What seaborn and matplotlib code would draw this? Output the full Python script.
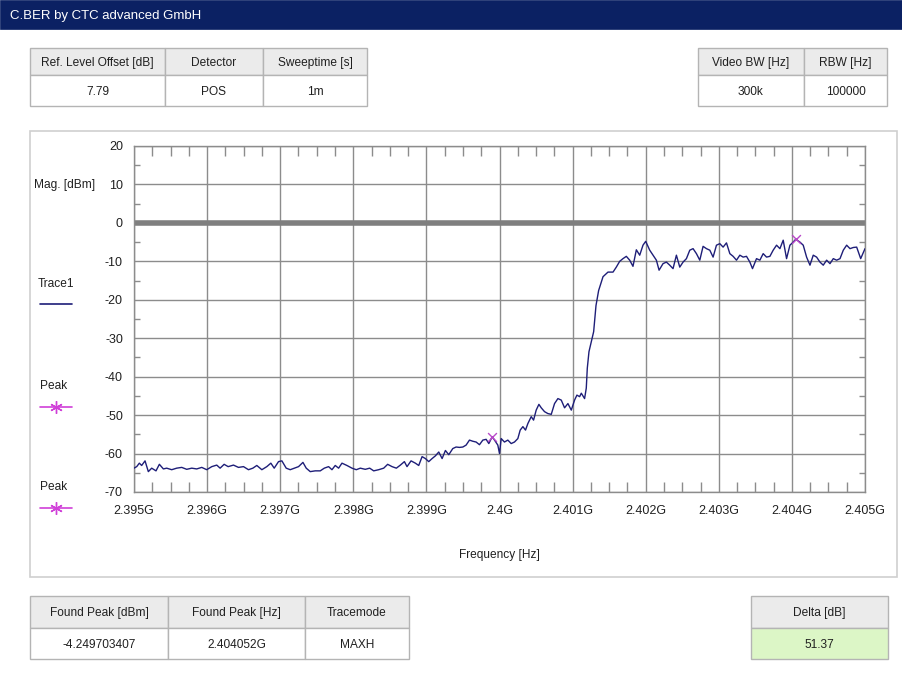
import numpy as np
import pandas as pd
import matplotlib
matplotlib.use("Agg")
import matplotlib.pyplot as plt
import seaborn as sns
from matplotlib.patches import Rectangle
from matplotlib.lines import Line2D
from matplotlib.ticker import MultipleLocator, FixedLocator

# ---------------- data ----------------
freq_offset_mhz = [
    0.000, 0.037, 0.073, 0.105, 0.151, 0.196, 0.242, 0.301, 0.347, 0.402,
    0.447, 0.516, 0.584, 0.653, 0.721, 0.790, 0.858, 0.927, 0.995, 1.064,
    1.132, 1.178, 1.233, 1.288, 1.361, 1.429, 1.498, 1.566, 1.626, 1.680,
    1.749, 1.817, 1.872, 1.918, 1.977, 2.023, 2.082, 2.137, 2.192, 2.251,
    2.311, 2.356, 2.411, 2.479, 2.548, 2.603, 2.662, 2.708, 2.753, 2.799,
    2.845, 2.913, 2.982, 3.041, 3.096, 3.164, 3.224, 3.279, 3.347, 3.416,
    3.470, 3.530, 3.589, 3.644, 3.699, 3.735, 3.790, 3.849, 3.895, 3.941,
    3.986, 4.032, 4.078, 4.123, 4.169, 4.215, 4.260, 4.306, 4.361, 4.406,
    4.452, 4.498, 4.543, 4.589, 4.635, 4.680, 4.726, 4.772, 4.817, 4.854,
    4.900, 4.932, 4.977, 5.000, 5.023, 5.068, 5.114, 5.160, 5.205, 5.251,
    5.283, 5.320, 5.356, 5.388, 5.434, 5.466, 5.502, 5.539, 5.571, 5.616,
    5.662, 5.708, 5.753, 5.799, 5.845, 5.890, 5.936, 5.982, 6.027, 6.059,
    6.096, 6.119, 6.164, 6.187, 6.201, 6.224, 6.256, 6.288, 6.320, 6.356,
    6.416, 6.484, 6.553, 6.598, 6.644, 6.689, 6.735, 6.781, 6.826, 6.872,
    6.918, 6.963, 7.000, 7.055, 7.100, 7.146, 7.183, 7.237, 7.283, 7.329,
    7.374, 7.420, 7.466, 7.511, 7.557, 7.603, 7.648, 7.694, 7.740, 7.785,
    7.831, 7.877, 7.922, 7.968, 8.014, 8.059, 8.105, 8.151, 8.196, 8.242,
    8.288, 8.333, 8.379, 8.425, 8.461, 8.516, 8.562, 8.607, 8.653, 8.699,
    8.744, 8.790, 8.836, 8.881, 8.927, 8.973, 9.018, 9.052, 9.110, 9.155,
    9.201, 9.247, 9.292, 9.338, 9.384, 9.429, 9.475, 9.521, 9.566, 9.612,
    9.658, 9.703, 9.749, 9.795, 9.840, 9.886, 9.941, 10.000,
]
mag_dbm = [
    -63.8, -63.4, -62.5, -63.1, -61.9, -64.7, -63.8, -64.5, -62.8, -64.0,
    -63.8, -64.2, -63.8, -63.6, -64.1, -63.8, -64.0, -63.6, -64.2, -63.4,
    -63.0, -63.8, -62.8, -63.4, -63.0, -63.6, -63.4, -64.2, -63.8, -63.1,
    -64.2, -63.4, -62.5, -63.8, -62.1, -61.9, -63.8, -64.2, -63.8, -63.4,
    -62.3, -63.8, -64.7, -64.5, -64.5, -63.8, -63.4, -64.2, -63.1, -63.8,
    -62.5, -63.1, -63.8, -64.2, -63.8, -64.1, -63.8, -64.5, -64.2, -63.8,
    -62.8, -63.4, -63.8, -63.0, -62.1, -63.4, -61.9, -62.5, -63.1, -60.8,
    -61.3, -62.1, -61.3, -60.6, -59.6, -61.3, -59.2, -60.3, -58.7, -58.3,
    -58.4, -58.3, -57.8, -56.5, -56.8, -57.0, -57.7, -56.5, -56.3, -57.4,
    -55.62, -56.5, -57.8, -60.0, -56.1, -57.0, -56.5, -57.4, -57.0, -56.1,
    -53.9, -53.0, -53.9, -52.2, -50.4, -51.3, -48.7, -47.2, -48.1, -49.1,
    -49.6, -49.8, -47.0, -45.7, -46.1, -48.1, -47.0, -48.7, -46.1, -44.8,
    -45.2, -44.3, -45.7, -43.0, -37.8, -33.5, -30.9, -28.3, -21.5, -17.6,
    -14.0, -12.8, -12.8, -11.5, -10.0, -9.3, -8.7, -9.7, -11.3, -7.0,
    -8.4, -5.8, -4.8, -7.1, -8.4, -9.7, -12.3, -10.6, -10.2, -11.0,
    -11.9, -8.4, -11.5, -10.2, -9.3, -7.1, -6.7, -8.0, -9.7, -6.1,
    -6.7, -7.1, -8.9, -5.8, -5.4, -6.3, -5.2, -8.0, -8.7, -9.7,
    -8.4, -8.9, -8.7, -10.2, -11.9, -9.3, -9.7, -8.0, -8.9, -8.7,
    -7.1, -5.8, -6.7, -4.5, -9.3, -5.8, -5.0, -4.25, -5.0, -5.8,
    -8.9, -11.0, -8.4, -8.9, -10.2, -11.0, -9.7, -10.6, -9.3, -9.7,
    -9.3, -7.1, -5.8, -6.7, -6.4, -6.3, -9.3, -6.7,
]
start_ghz = 2.395
peak_freq_ghz = [2.399900, 2.404052]
peak_mag_dbm = [-55.62, -4.25]

x_ticks = [2.395, 2.396, 2.397, 2.398, 2.399, 2.400, 2.401, 2.402, 2.403, 2.404, 2.405]
x_tick_labels = ["2.395G", "2.396G", "2.397G", "2.398G", "2.399G", "2.4G",
                 "2.401G", "2.402G", "2.403G", "2.404G", "2.405G"]
y_ticks = [-70, -60, -50, -40, -30, -20, -10, 0, 10, 20]

title_text = "C.BER by CTC advanced GmbH"
tl_headers = ["Ref. Level Offset [dB]", "Detector", "Sweeptime [s]"]
tl_values = ["7.79", "POS", "1m"]
tr_headers = ["Video BW [Hz]", "RBW [Hz]"]
tr_values = ["300k", "100000"]
bl_headers = ["Found Peak [dBm]", "Found Peak [Hz]", "Tracemode"]
bl_values = ["-4.249703407", "2.404052G", "MAXH"]
br_headers = ["Delta [dB]"]
br_values = ["51.37"]

# ---------------- figure ----------------
sns.set_theme(style="white")
plt.rcParams["font.family"] = ["Liberation Sans", "DejaVu Sans"]

W, H = 902, 674
fig = plt.figure(figsize=(W / 100, H / 100), dpi=100)
fig.patch.set_facecolor("white")
FS = 8.6


def fx(x):
    return x / W


def fy(y):
    return 1 - y / H


def rect(x0, y0, x1, y1, fc, ec, lw=1.0, z=-5):
    r = Rectangle((fx(x0), fy(y1)), fx(x1) - fx(x0), fy(y0) - fy(y1),
                  transform=fig.transFigure, facecolor=fc, edgecolor=ec,
                  linewidth=lw, zorder=z)
    fig.patches.append(r)


def label(x, ymid, s, ha="center", color="#202020", fs=FS):
    # baseline placed so that cap height is centred on ymid
    fig.text(fx(x), fy(ymid + 4.2), s, ha=ha, va="baseline", fontsize=fs,
             color=color, zorder=3)


def table(xs, ys, headers, values, value_fc="white"):
    for i, (h, v) in enumerate(zip(headers, values)):
        rect(xs[i], ys[0], xs[i + 1], ys[1], "#ebebeb", "#b4b4b4", 1.0, -4)
        rect(xs[i], ys[1], xs[i + 1], ys[2], value_fc, "#b4b4b4", 1.0, -4)
        cx = (xs[i] + xs[i + 1]) / 2
        label(cx, (ys[0] + ys[1]) / 2, h)
        label(cx, (ys[1] + ys[2]) / 2, v)


# title bar
rect(0, 0, W, 29, "#0b2163", "#0b2163", 0.5, -4)
fig.text(fx(10), fy(19), title_text, ha="left", va="baseline", fontsize=9.5,
         color="white", zorder=3)

# parameter tables
table([30, 165, 263, 367], [48, 75, 106], tl_headers, tl_values)
table([698, 804, 887], [48, 75, 106], tr_headers, tr_values)
table([30, 168, 305, 409], [596, 628, 659], bl_headers, bl_values)
table([751, 888], [596, 628, 659], br_headers, br_values, value_fc="#dcf6c6")

# chart panel
rect(30, 131, 897, 577, "white", "#cfcfcf", 1.2, -6)

ax = fig.add_axes([fx(134), fy(492), fx(865) - fx(134), fy(146) - fy(492)])
ax.set_zorder(2)
ax.set_facecolor("white")

df = pd.DataFrame({"freq": [start_ghz + m / 1000.0 for m in freq_offset_mhz],
                   "mag": mag_dbm})
pk = pd.DataFrame({"freq": peak_freq_ghz, "mag": peak_mag_dbm})

ax.axhline(0, color="#7f7f7f", lw=4, zorder=2)
sns.lineplot(data=df, x="freq", y="mag", ax=ax, color="#1e1e78", lw=1.0,
             estimator=None, sort=False, zorder=4)
sns.scatterplot(data=pk, x="freq", y="mag", ax=ax, marker="x", color="#b848c8",
                s=40, linewidth=1.0, zorder=5)

ax.set_xlim(2.395, 2.405)
ax.set_ylim(-70, 20)
ax.xaxis.set_major_locator(FixedLocator(x_ticks))
ax.set_xticklabels(x_tick_labels)
ax.yaxis.set_major_locator(FixedLocator(y_ticks))
ax.set_yticklabels([str(v) for v in y_ticks])
ax.xaxis.set_minor_locator(MultipleLocator(0.00025))
ax.yaxis.set_minor_locator(MultipleLocator(5))
ax.grid(True, which="major", color="#8c8c8c", lw=1.0, zorder=1)
ax.set_axisbelow(True)
ax.tick_params(axis="both", which="major", length=0, labelsize=9,
               labelcolor="#202020")
ax.tick_params(axis="x", which="major", pad=9)
ax.tick_params(axis="y", which="major", pad=8)
ax.tick_params(axis="x", which="minor", direction="in", length=7, width=1,
               color="#8c8c8c", top=True, bottom=True)
ax.tick_params(axis="y", which="minor", direction="in", length=4.5, width=1,
               color="#8c8c8c", left=True, right=True)
for s in ax.spines.values():
    s.set_color("#8c8c8c")
    s.set_linewidth(1.0)
ax.set_xlabel("")
ax.set_ylabel("")

label(499, 554, "Frequency [Hz]")
label(65, 184, "Mag. [dBm]")

# legend
label(56, 283, "Trace1")
fig.add_artist(Line2D([fx(40), fx(72)], [fy(304), fy(304)],
                      transform=fig.transFigure, color="#1e1e78", lw=1.2))
for ty, ly in [(385, 407), (486, 508)]:
    label(54, ty, "Peak")
    fig.add_artist(Line2D([fx(40), fx(72)], [fy(ly), fy(ly)],
                          transform=fig.transFigure, color="#d040d8", lw=1.2))
    fig.add_artist(Line2D([fx(56)], [fy(ly)], transform=fig.transFigure,
                          color="#d040d8", marker=(6, 2, 0), markersize=9,
                          markeredgewidth=1.0, linestyle="none"))

fig.savefig("out.png", dpi=100)
